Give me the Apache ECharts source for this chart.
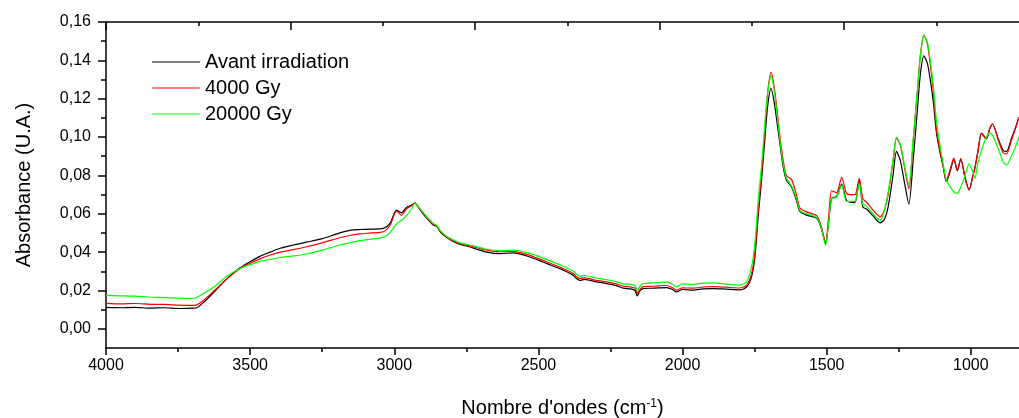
<!DOCTYPE html>
<html>
<head>
<meta charset="utf-8">
<script src="https://cdn.jsdelivr.net/npm/echarts@6/dist/echarts.min.js"></script>
<style>html,body{margin:0;padding:0;background:#fff;}#c{width:1019px;height:418px;}</style>
</head>
<body>
<div id="c"></div>
<script>
var wavenumbers = [4000,3950,3900,3850,3800,3750,3700,3685,3660,3620,3580,3535,3500,3466,3430,3396,3350,3304,3250,3189,3150,3119,3080,3038,3015,2992,2975,2958,2940,2928,2915,2900,2880,2865,2853,2840,2819,2795,2772,2740,2714,2680,2633,2587,2540,2500,2472,2420,2380,2368,2356,2340,2300,2263,2230,2206,2180,2165,2157,2148,2137,2100,2055,2035,2021,2000,1963,1930,1893,1850,1801,1778,1761,1749,1737,1726,1715,1705,1693,1682,1670,1662,1651,1640,1622,1605,1593,1570,1535,1520,1504,1493,1483,1466,1448,1431,1415,1402,1387,1375,1362,1340,1315,1300,1287,1270,1258,1245,1230,1215,1200,1185,1175,1163,1150,1131,1119,1107,1096,1085,1072,1059,1047,1035,1020,1006,993,986,976,963,946,935,925,905,888,876,860,845,833];

var avantIrradiation = [0.0112,0.0110,0.0112,0.0108,0.0110,0.0106,0.0108,0.0110,0.0140,0.0200,0.0262,0.0318,0.0350,0.0378,0.0400,0.0420,0.0437,0.0452,0.0470,0.0500,0.0515,0.0518,0.0520,0.0524,0.0550,0.0619,0.0605,0.0633,0.0645,0.0657,0.0630,0.0600,0.0565,0.0541,0.0534,0.0505,0.0477,0.0455,0.0440,0.0428,0.0415,0.0400,0.0392,0.0396,0.0380,0.0358,0.0341,0.0310,0.0280,0.0262,0.0252,0.0258,0.0245,0.0236,0.0225,0.0212,0.0208,0.0200,0.0172,0.0198,0.0210,0.0212,0.0215,0.0205,0.0192,0.0205,0.0202,0.0208,0.0210,0.0207,0.0203,0.0218,0.0270,0.0376,0.0600,0.0776,0.0980,0.1160,0.1254,0.1180,0.1050,0.0960,0.0845,0.0776,0.0740,0.0670,0.0612,0.0593,0.0576,0.0530,0.0445,0.0560,0.0680,0.0690,0.0755,0.0668,0.0660,0.0658,0.0775,0.0636,0.0625,0.0590,0.0552,0.0570,0.0636,0.0800,0.0925,0.0880,0.0760,0.0650,0.0880,0.1150,0.1330,0.1423,0.1380,0.1193,0.1019,0.0920,0.0845,0.0767,0.0820,0.0884,0.0824,0.0885,0.0790,0.0723,0.0800,0.0840,0.0920,0.1019,0.0990,0.1040,0.1068,0.0990,0.0930,0.0925,0.0990,0.1050,0.1105];

var gy4000 = [0.0133,0.0130,0.0132,0.0128,0.0127,0.0124,0.0122,0.0125,0.0150,0.0205,0.0262,0.0315,0.0342,0.0365,0.0385,0.0400,0.0413,0.0428,0.0448,0.0475,0.0488,0.0495,0.0500,0.0506,0.0540,0.0613,0.0592,0.0625,0.0642,0.0656,0.0632,0.0603,0.0568,0.0545,0.0537,0.0508,0.0480,0.0460,0.0445,0.0433,0.0423,0.0410,0.0402,0.0404,0.0388,0.0366,0.0350,0.0318,0.0290,0.0272,0.0262,0.0266,0.0253,0.0245,0.0234,0.0222,0.0218,0.0212,0.0185,0.0206,0.0220,0.0222,0.0226,0.0214,0.0202,0.0214,0.0212,0.0218,0.0220,0.0217,0.0213,0.0228,0.0285,0.0400,0.0630,0.0810,0.1030,0.1230,0.1337,0.1260,0.1110,0.1000,0.0880,0.0800,0.0778,0.0700,0.0630,0.0610,0.0590,0.0540,0.0450,0.0590,0.0720,0.0710,0.0790,0.0705,0.0700,0.0700,0.0785,0.0680,0.0660,0.0620,0.0585,0.0620,0.0700,0.0870,0.0995,0.0960,0.0840,0.0730,0.0980,0.1250,0.1430,0.1532,0.1480,0.1250,0.1040,0.0930,0.0850,0.0775,0.0830,0.0890,0.0828,0.0888,0.0785,0.0725,0.0795,0.0835,0.0920,0.1020,0.0995,0.1045,0.1068,0.0985,0.0918,0.0912,0.0980,0.1045,0.1105];

var gy20000 = [0.0174,0.0172,0.0170,0.0166,0.0163,0.0160,0.0158,0.0165,0.0185,0.0225,0.0275,0.0315,0.0335,0.0352,0.0362,0.0372,0.0380,0.0390,0.0410,0.0437,0.0450,0.0460,0.0468,0.0477,0.0500,0.0548,0.0565,0.0590,0.0625,0.0655,0.0635,0.0607,0.0572,0.0550,0.0540,0.0512,0.0483,0.0463,0.0448,0.0437,0.0428,0.0415,0.0408,0.0410,0.0397,0.0378,0.0362,0.0330,0.0302,0.0285,0.0275,0.0278,0.0265,0.0256,0.0246,0.0234,0.0232,0.0226,0.0200,0.0222,0.0235,0.0240,0.0245,0.0232,0.0218,0.0234,0.0232,0.0238,0.0240,0.0233,0.0228,0.0245,0.0320,0.0450,0.0680,0.0850,0.1060,0.1230,0.1320,0.1240,0.1090,0.0980,0.0860,0.0785,0.0745,0.0680,0.0618,0.0600,0.0580,0.0530,0.0437,0.0560,0.0680,0.0685,0.0750,0.0665,0.0665,0.0665,0.0760,0.0650,0.0640,0.0600,0.0565,0.0615,0.0710,0.0880,0.0998,0.0965,0.0850,0.0750,0.0990,0.1250,0.1420,0.1530,0.1490,0.1280,0.1080,0.0958,0.0860,0.0776,0.0740,0.0715,0.0706,0.0740,0.0800,0.0860,0.0820,0.0784,0.0860,0.0932,0.1000,0.1020,0.1010,0.0940,0.0870,0.0855,0.0900,0.0950,0.1000];

var seriesNames = ['Avant irradiation', '4000 Gy', '20000 Gy'];
var seriesColors = ['#000000', '#ff0000', '#00ff00'];
var xMajorTicks = [4000,3500,3000,2500,2000,1500,1000];
var xMinorTicks = [3750,3250,2750,2250,1750,1250];
var xTopMajorTicks = [4000,3360,2720,2080,1440];
var xTopMinorTicks = [3680,3040,2400,1760,1120];
var yMajorTicks = [0,0.02,0.04,0.06,0.08,0.10,0.12,0.14,0.16];
var yMinorTicks = [0.01,0.03,0.05,0.07,0.09,0.11,0.13,0.15];

function zip(v){ return wavenumbers.map(function(w,i){ return [w, v[i]]; }); }
var values = [avantIrradiation, gy4000, gy20000];

var XMIN = 833, XMAX = 4000, YMIN = -0.01, YMAX = 0.16;
var font = 'Arial, "Liberation Sans", sans-serif';
function xAxisBase(extra){
  var a = {type:'value', min:XMIN, max:XMAX, inverse:true, splitLine:{show:false},
    axisLine:{show:false, onZero:false}, axisLabel:{show:false}, axisTick:{show:false}};
  for (var k in extra) a[k] = extra[k];
  return a;
}
function yAxisBase(extra){
  var a = {type:'value', min:YMIN, max:YMAX, position:'left', splitLine:{show:false},
    axisLine:{show:false, onZero:false}, axisLabel:{show:false}, axisTick:{show:false}};
  for (var k in extra) a[k] = extra[k];
  return a;
}

var chart = echarts.init(document.getElementById('c'), null, {renderer:'canvas'});
chart.setOption({
  animation:false,
  backgroundColor:'#ffffff',
  grid:{left:106, top:22, right:0, bottom:70, containLabel:false, outerBoundsMode:'none'},
  legend:{
    orient:'vertical', left:152, top:52, padding:0, itemGap:6,
    icon:'rect', itemWidth:48, itemHeight:1.2,
    textStyle:{fontFamily:font, fontSize:20, color:'#000'},
    data:seriesNames
  },
  xAxis:[
    xAxisBase({position:'bottom',
      axisLine:{show:true, onZero:false, lineStyle:{color:'#000', width:1.5}},
      axisTick:{show:true, inside:false, length:7, customValues:xMajorTicks, lineStyle:{color:'#000', width:1.5}},
      axisLabel:{show:true, customValues:xMajorTicks, margin:10, fontFamily:font, fontSize:16, color:'#000',
        formatter:function(v){ return String(v); }},
      name:'Nombre d\'ondes (cm{sup|-1})', nameLocation:'middle', nameGap:50,
      nameTextStyle:{fontFamily:font, fontSize:20, color:'#000', rich:{sup:{fontFamily:font, fontSize:12, color:'#000', verticalAlign:'top', lineHeight:20}}}
    }),
    xAxisBase({position:'bottom',
      axisTick:{show:true, inside:false, length:4, customValues:xMinorTicks, lineStyle:{color:'#000', width:1.5}}}),
    xAxisBase({position:'top',
      axisLine:{show:true, onZero:false, lineStyle:{color:'#000', width:1.5}},
      axisTick:{show:true, inside:true, length:8, customValues:xTopMajorTicks, lineStyle:{color:'#000', width:1.5}}}),
    xAxisBase({position:'top',
      axisTick:{show:true, inside:true, length:4, customValues:xTopMinorTicks, lineStyle:{color:'#000', width:1.5}}})
  ],
  yAxis:[
    yAxisBase({
      axisLine:{show:true, onZero:false, lineStyle:{color:'#000', width:1.5}},
      axisTick:{show:true, inside:false, length:8, customValues:yMajorTicks, lineStyle:{color:'#000', width:1.5}},
      axisLabel:{show:true, customValues:yMajorTicks, margin:15, fontFamily:font, fontSize:16, color:'#000',
        formatter:function(v){ return v.toFixed(2).replace('.', ','); }},
      name:'Absorbance (U.A.)', nameLocation:'middle', nameGap:72,
      nameTextStyle:{fontFamily:font, fontSize:20, color:'#000'}
    }),
    yAxisBase({
      axisTick:{show:true, inside:false, length:5, customValues:yMinorTicks, lineStyle:{color:'#000', width:1.5}}})
  ],
  series: seriesNames.map(function(n, i){
    return {name:n, type:'line', xAxisIndex:0, yAxisIndex:0, data:zip(values[i]),
      symbol:'none', smooth:0.25, color:seriesColors[i],
      lineStyle:{color:seriesColors[i], width:1.2}, z:2+i};
  })
});
</script>
</body>
</html>
